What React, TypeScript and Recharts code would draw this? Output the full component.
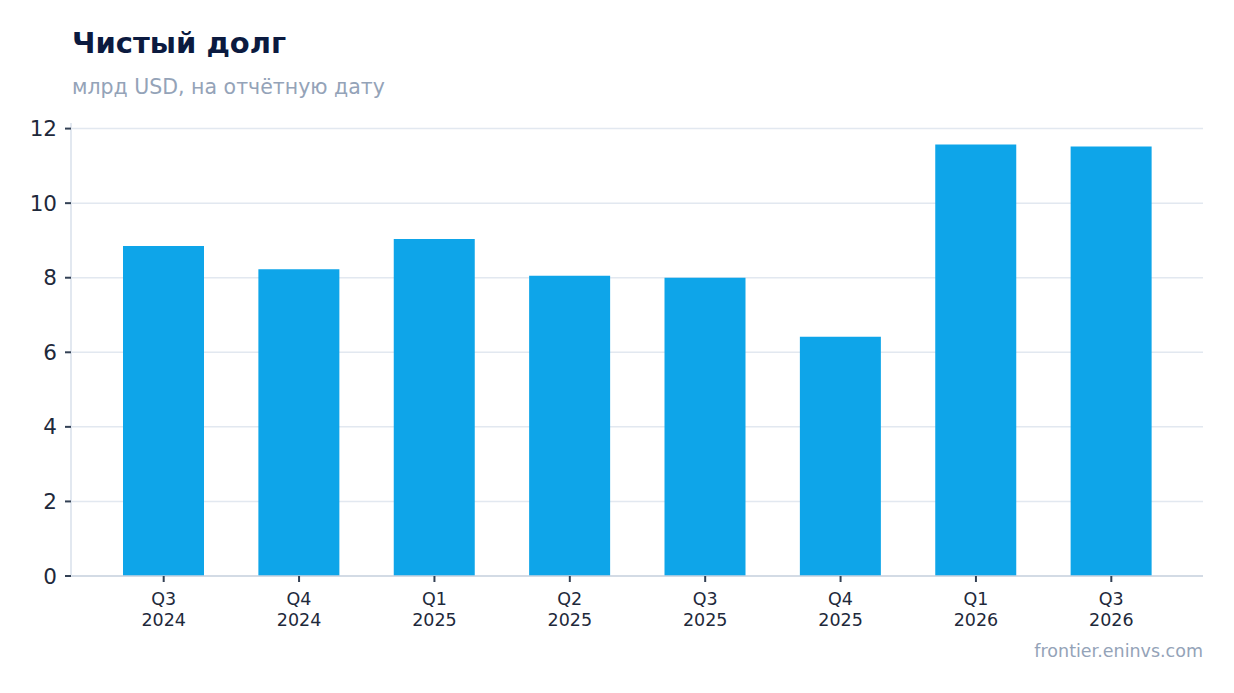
import { BarChart, Bar, XAxis, YAxis, CartesianGrid } from 'recharts'

const quarters = ['Q3', 'Q4', 'Q1', 'Q2', 'Q3', 'Q4', 'Q1', 'Q3']
const years = ['2024', '2024', '2025', '2025', '2025', '2025', '2026', '2026']
const netDebt = [8.85, 8.23, 9.04, 8.05, 8.0, 6.42, 11.57, 11.52]
const yTicks = [0, 2, 4, 6, 8, 10, 12]

const data = quarters.map((q, i) => ({ label: `${q}\n${years[i]}`, value: netDebt[i] }))

const FONT = '"DejaVu Sans", sans-serif'

function QuarterTick({ x, y, payload }: { x?: number; y?: number; payload?: { value: string } }) {
  const [q, yr] = String(payload?.value ?? '').split('\n')
  return (
    <text x={x} y={y} textAnchor="middle" fill="#1e293b" fontSize={17.5} fontFamily={FONT}>
      <tspan x={x} dy={21}>{q}</tspan>
      <tspan x={x} dy={20.7}>{yr}</tspan>
    </text>
  )
}

export default function App() {
  return (
    <div style={{ position: 'absolute', top: 0, left: 0, width: 1234, height: 693, background: '#fff' }}>
      <BarChart
        width={1234}
        height={693}
        data={data}
        margin={{ top: 123, right: 31, bottom: 57, left: 0 }}
      >
        <CartesianGrid vertical={false} syncWithTicks stroke="#e2e8f0" strokeWidth={1.5} />
        <XAxis
          dataKey="label"
          interval={0}
          height={60}
          padding={{ left: 25, right: 24 }}
          tickSize={6}
          tickLine={{ stroke: '#334155', strokeWidth: 2 }}
          axisLine={{ stroke: '#cbd5e1', strokeWidth: 1.5 }}
          tick={<QuarterTick />}
        />
        <YAxis
          width={71}
          domain={[0, 12.15]}
          ticks={yTicks}
          tickSize={6}
          tickMargin={8}
          tickLine={{ stroke: '#334155', strokeWidth: 2 }}
          axisLine={{ stroke: '#e2e8f0', strokeWidth: 2 }}
          tick={{ fill: '#1e293b', fontSize: 21.5, fontFamily: FONT }}
        />
        <Bar dataKey="value" fill="#0ea5e9" barSize={81} isAnimationActive={false} />
      </BarChart>
      <svg width={1234} height={693} style={{ position: 'absolute', top: 0, left: 0, pointerEvents: 'none' }}>
        <text x={72} y={53} fontFamily={FONT} fontSize={29} fontWeight="bold" fill="#0b1a3f">
          Чистый долг
        </text>
        <text x={72} y={94} fontFamily={FONT} fontSize={20.5} fill="#94a3b8">
          млрд USD, на отчётную дату
        </text>
        <text x={1203} y={657} textAnchor="end" fontFamily={FONT} fontSize={17.5} fill="#94a3b8">
          frontier.eninvs.com
        </text>
      </svg>
    </div>
  )
}
